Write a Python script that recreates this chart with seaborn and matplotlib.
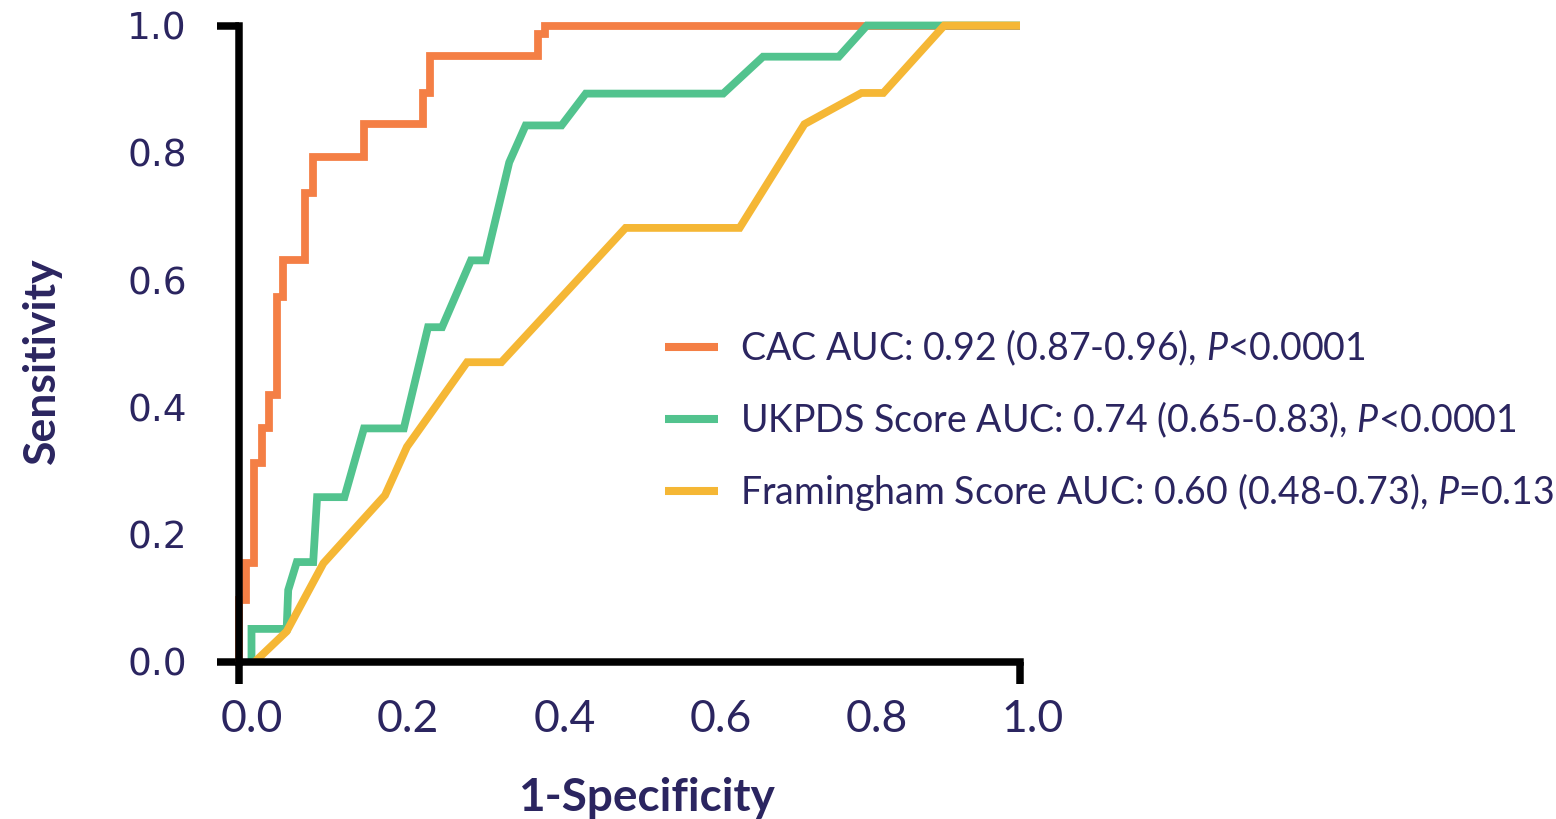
import numpy as np
import pandas as pd
import matplotlib
matplotlib.use("Agg")
import matplotlib.pyplot as plt
import matplotlib.transforms as mtransforms
import seaborn as sns

# ---- data ----
cac_fpr = [0.0, 0.0, 0.009, 0.009, 0.019, 0.019, 0.029, 0.029, 0.038, 0.038, 0.049, 0.049,
           0.056, 0.056, 0.085, 0.085, 0.095, 0.095, 0.160, 0.160, 0.236, 0.236, 0.245, 0.245,
           0.383, 0.383, 0.392, 0.392, 1.0]
cac_tpr = [0.0, 0.097, 0.097, 0.155, 0.155, 0.312, 0.312, 0.367, 0.367, 0.420, 0.420, 0.573,
           0.573, 0.631, 0.631, 0.737, 0.737, 0.793, 0.793, 0.846, 0.846, 0.894, 0.894, 0.952,
           0.952, 0.987, 0.987, 1.0, 1.0]

ukpds_fpr = [0.016, 0.016, 0.061, 0.063, 0.074, 0.095, 0.100, 0.135, 0.160, 0.211, 0.242, 0.260,
             0.297, 0.316, 0.346, 0.367, 0.413, 0.444, 0.620, 0.671, 0.768, 0.804, 1.0]
ukpds_tpr = [0.0, 0.052, 0.052, 0.113, 0.157, 0.157, 0.259, 0.259, 0.367, 0.367, 0.526, 0.526,
             0.631, 0.631, 0.785, 0.843, 0.843, 0.893, 0.893, 0.951, 0.951, 1.0, 1.0]

fram_fpr = [0.020, 0.061, 0.108, 0.187, 0.215, 0.292, 0.336, 0.495, 0.641, 0.724, 0.797, 0.825,
            0.903, 1.0]
fram_tpr = [0.0, 0.048, 0.155, 0.262, 0.338, 0.471, 0.471, 0.682, 0.682, 0.845, 0.894, 0.894,
            1.0, 1.0]

labels = ["CAC AUC: 0.92 (0.87-0.96), $\\mathit{P}$<0.0001",
          "UKPDS Score AUC: 0.74 (0.65-0.83), $\\mathit{P}$<0.0001",
          "Framingham Score AUC: 0.60 (0.48-0.73), $\\mathit{P}$=0.13"]
colors = ["#F47F45", "#52C38E", "#F5B735"]
tick_vals = [0.0, 0.2, 0.4, 0.6, 0.8, 1.0]
tick_labels = ["0.0", "0.2", "0.4", "0.6", "0.8", "1.0"]

# ---- build long table ----
frames = []
for lab, fx, ty in zip(labels, [cac_fpr, ukpds_fpr, fram_fpr], [cac_tpr, ukpds_tpr, fram_tpr]):
    frames.append(pd.DataFrame({"fpr": fx, "tpr": ty, "model": lab}))
df = pd.concat(frames, ignore_index=True)

sns.set_theme(style="white")
plt.rcParams["font.family"] = ["Lato", "DejaVu Sans"]
plt.rcParams["mathtext.fontset"] = "custom"
plt.rcParams["mathtext.it"] = "Lato:italic"
plt.rcParams["mathtext.rm"] = "Lato"

TEXT = "#2B2560"
DPI = 100
fig = plt.figure(figsize=(15.56, 8.19), dpi=DPI)
ax = fig.add_axes([239/1556, 1 - 662/819, (1020-239)/1556, (662-25.5)/819])

sns.lineplot(data=df, x="fpr", y="tpr", hue="model", palette=colors, sort=False,
             estimator=None, units="model", linewidth=5.6, ax=ax, clip_on=False,
             solid_joinstyle="miter", solid_capstyle="butt", legend=True)

ax.set_xlim(0, 1)
ax.set_ylim(0, 1)
ax.margins(0)

for s in ["top", "right"]:
    ax.spines[s].set_visible(False)
for s in ["left", "bottom"]:
    ax.spines[s].set_linewidth(5.4)
    ax.spines[s].set_color("black")
    ax.spines[s].set_capstyle("projecting")
    ax.spines[s].set_zorder(5)

ax.set_xticks(tick_vals)
ax.set_xticklabels(tick_labels, fontsize=32, color=TEXT, family="Lato")
ax.set_yticks(tick_vals)
ax.set_yticklabels(tick_labels, fontsize=27, color=TEXT, family="DejaVu Sans")
ax.tick_params(axis="both", which="major", direction="out", length=15.5, width=5.4,
               color="black", bottom=True, left=True)
ax.tick_params(axis="x", pad=11)
ax.tick_params(axis="y", pad=22)
for axis in [ax.xaxis, ax.yaxis]:
    ticks = axis.get_major_ticks()
    for t in ticks[1:-1]:
        t.tick1line.set_visible(False)
    for t in ticks:
        t.tick1line.set_zorder(5)

shift = mtransforms.ScaledTranslation(13/DPI, 0, fig.dpi_scale_trans)
for lbl in ax.get_xticklabels():
    lbl.set_transform(lbl.get_transform() + shift)

ax.set_xlabel("1-Specificity", fontsize=33, fontweight="bold", color=TEXT)
ax.set_ylabel("Sensitivity", fontsize=32, fontweight="bold", color=TEXT)
ax.xaxis.set_label_coords(0.522, -0.18)
ax.yaxis.set_label_coords(-0.227, 0.474)

leg = ax.legend(loc="center left", bbox_to_anchor=(0.545, 0.38), frameon=False,
                fontsize=27, handlelength=1.42, handletextpad=0.58, labelspacing=0.83,
                borderpad=0, borderaxespad=0)
for t in leg.get_texts():
    t.set_color(TEXT)
for h in leg.get_lines():
    h.set_linewidth(5.8)

fig.savefig("out.png", dpi=DPI)
